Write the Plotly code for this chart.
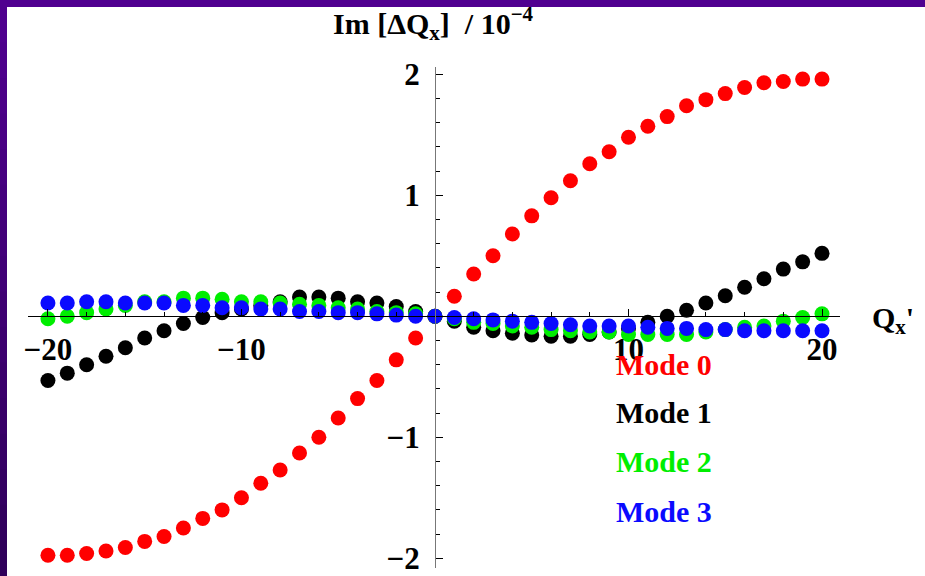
import plotly.graph_objects as go

# Qx' scan, Im[dQx] in units of 1e-4
QX = list(range(-20, 21))

MODE0 = [-1.975, -1.975, -1.96, -1.94, -1.91, -1.86, -1.82, -1.75, -1.67, -1.60,
         -1.50, -1.38, -1.27, -1.13, -1.00, -0.84, -0.68, -0.53, -0.36, -0.18,
         0.0,
         0.165, 0.35, 0.50, 0.68, 0.83, 0.98, 1.12, 1.26, 1.36, 1.48,
         1.57, 1.65, 1.74, 1.79, 1.84, 1.89, 1.93, 1.94, 1.96, 1.96]
MODE1 = [-0.53, -0.47, -0.40, -0.33, -0.26, -0.18, -0.12, -0.06, -0.01, 0.03,
         0.06, 0.09, 0.12, 0.16, 0.16, 0.15, 0.12, 0.11, 0.08, 0.04,
         0.0,
         -0.04, -0.09, -0.12, -0.14, -0.155, -0.165, -0.165, -0.15, -0.13, -0.10,
         -0.05, 0.0, 0.05, 0.11, 0.17, 0.24, 0.31, 0.39, 0.45, 0.52]
MODE2 = [-0.02, 0.0, 0.03, 0.06, 0.09, 0.12, 0.12, 0.15, 0.15, 0.14,
         0.12, 0.12, 0.11, 0.10, 0.09, 0.07, 0.06, 0.04, 0.03, 0.02,
         0.0,
         -0.02, -0.05, -0.06, -0.08, -0.09, -0.11, -0.12, -0.13, -0.13, -0.15,
         -0.15, -0.15, -0.15, -0.13, -0.11, -0.09, -0.08, -0.04, -0.01, 0.02]
MODE3 = [0.11, 0.11, 0.12, 0.12, 0.11, 0.11, 0.11, 0.09, 0.09, 0.07,
         0.07, 0.06, 0.06, 0.04, 0.04, 0.03, 0.03, 0.02, 0.01, 0.0,
         0.0,
         -0.01, -0.02, -0.03, -0.04, -0.05, -0.06, -0.07, -0.08, -0.08, -0.08,
         -0.09, -0.10, -0.10, -0.11, -0.11, -0.12, -0.12, -0.12, -0.12, -0.12]

NAMES = ['Mode 0', 'Mode 1', 'Mode 2', 'Mode 3']
SERIES = [MODE0, MODE1, MODE2, MODE3]
COLORS = ['#ff0000', '#000000', '#00ee00', '#0a0aff']

X_TICKS = [-20, -10, 10, 20]
X_TICKTEXT = ['\u221220', '\u221210', '10', '20']
Y_TICKS = [-2, -1, 1, 2]
Y_TICKTEXT = ['\u22122', '\u22121', '1', '2']

XR = [-21.03, 20.93]
YR = [-2.08, 2.06]

FONT = 'Liberation Serif'
W, H = 925, 576
ML, MR, MT, MB = 28, 85, 67, 8
PW, PH = W - ML - MR, H - MT - MB


def px(q):
    return (q - ML) / PW


def py(p):
    return (H - MB - p) / PH


fig = go.Figure()
for name, ys, c in zip(NAMES, SERIES, COLORS):
    fig.add_trace(go.Scatter(
        x=QX, y=ys, mode='markers', name=name,
        marker=dict(color=c, size=15, line=dict(width=0)),
    ))

# legend as coloured text, like the original
leg_y = [364, 412, 461, 511]
for name, c, yy in zip(NAMES, COLORS, leg_y):
    fig.add_annotation(
        xref='paper', yref='paper', x=px(614), y=py(yy),
        xanchor='left', yanchor='middle', showarrow=False,
        text=name, font=dict(family=FONT, size=30, color=c, weight='bold'),
    )

fig.add_annotation(
    xref='paper', yref='paper', x=px(433), y=py(24),
    xanchor='center', yanchor='middle', showarrow=False,
    text='Im [\u0394Q<sub>x</sub>]  / 10<sup>\u22124</sup>',
    font=dict(family=FONT, size=30, color='black', weight='bold'),
)
fig.add_annotation(
    xref='paper', yref='paper', x=px(870), y=py(320),
    xanchor='left', yanchor='middle', showarrow=False,
    text="Q<sub>x</sub>'",
    font=dict(family=FONT, size=30, color='black', weight='bold'),
)

# purple frame (top band + left band with vertical gradient)
fig.add_shape(type='rect', xref='paper', yref='paper',
              x0=px(-5), x1=px(930), y0=py(7), y1=py(-5),
              fillcolor='#500090', line_width=0, layer='above')
n = 16
top_c = (0x50, 0x00, 0x90)
bot_c = (0x2e, 0x00, 0x58)
for i in range(n):
    t = (i + 0.5) / n
    col = 'rgb(%d,%d,%d)' % tuple(round(a + (b - a) * t) for a, b in zip(top_c, bot_c))
    fig.add_shape(type='rect', xref='paper', yref='paper',
                  x0=px(-5), x1=px(7),
                  y0=py(7 + (H - 7) * (i + 1) / n + 1), y1=py(7 + (H - 7) * i / n),
                  fillcolor=col, line_width=0, layer='above')

tickfont = dict(family=FONT, size=31, color='black', weight='bold')

fig.update_layout(
    width=W, height=H,
    margin=dict(l=ML, r=MR, t=MT, b=MB, autoexpand=False),
    paper_bgcolor='white', plot_bgcolor='white',
    showlegend=False,
    xaxis=dict(
        range=XR, anchor='free', position=(0 - YR[0]) / (YR[1] - YR[0]),
        automargin=False,
        showline=True, linecolor='black', linewidth=1,
        showgrid=False, zeroline=False,
        tickmode='array', tickvals=X_TICKS, ticktext=X_TICKTEXT,
        ticks='inside', ticklen=7, tickcolor='black', tickwidth=1,
        ticklabelstandoff=6, ticklabeloverflow='allow',
        minor=dict(tickmode='array', tickvals=[v for v in range(-20, 21, 2) if v % 10],
                   ticks='inside', ticklen=4, tickcolor='black', showgrid=False),
        tickfont=tickfont,
    ),
    yaxis=dict(
        range=YR, anchor='free', position=(0 - XR[0]) / (XR[1] - XR[0]),
        automargin=False,
        showline=True, linecolor='#777777', linewidth=1,
        showgrid=False, zeroline=False,
        tickmode='array', tickvals=Y_TICKS, ticktext=Y_TICKTEXT,
        ticks='inside', ticklen=7, tickcolor='black', tickwidth=1,
        ticklabelstandoff=9, ticklabeloverflow='allow',
        minor=dict(tickmode='array',
                   tickvals=[round(-2 + 0.2 * k, 1) for k in range(21) if k % 5],
                   ticks='inside', ticklen=4, tickcolor='black', showgrid=False),
        tickfont=tickfont,
    ),
)

# page body has a default margin; remove it so the figure fills the window
fig.write_html('out.html', config={'displayModeBar': False},
               post_script="document.body.style.margin='0';")
